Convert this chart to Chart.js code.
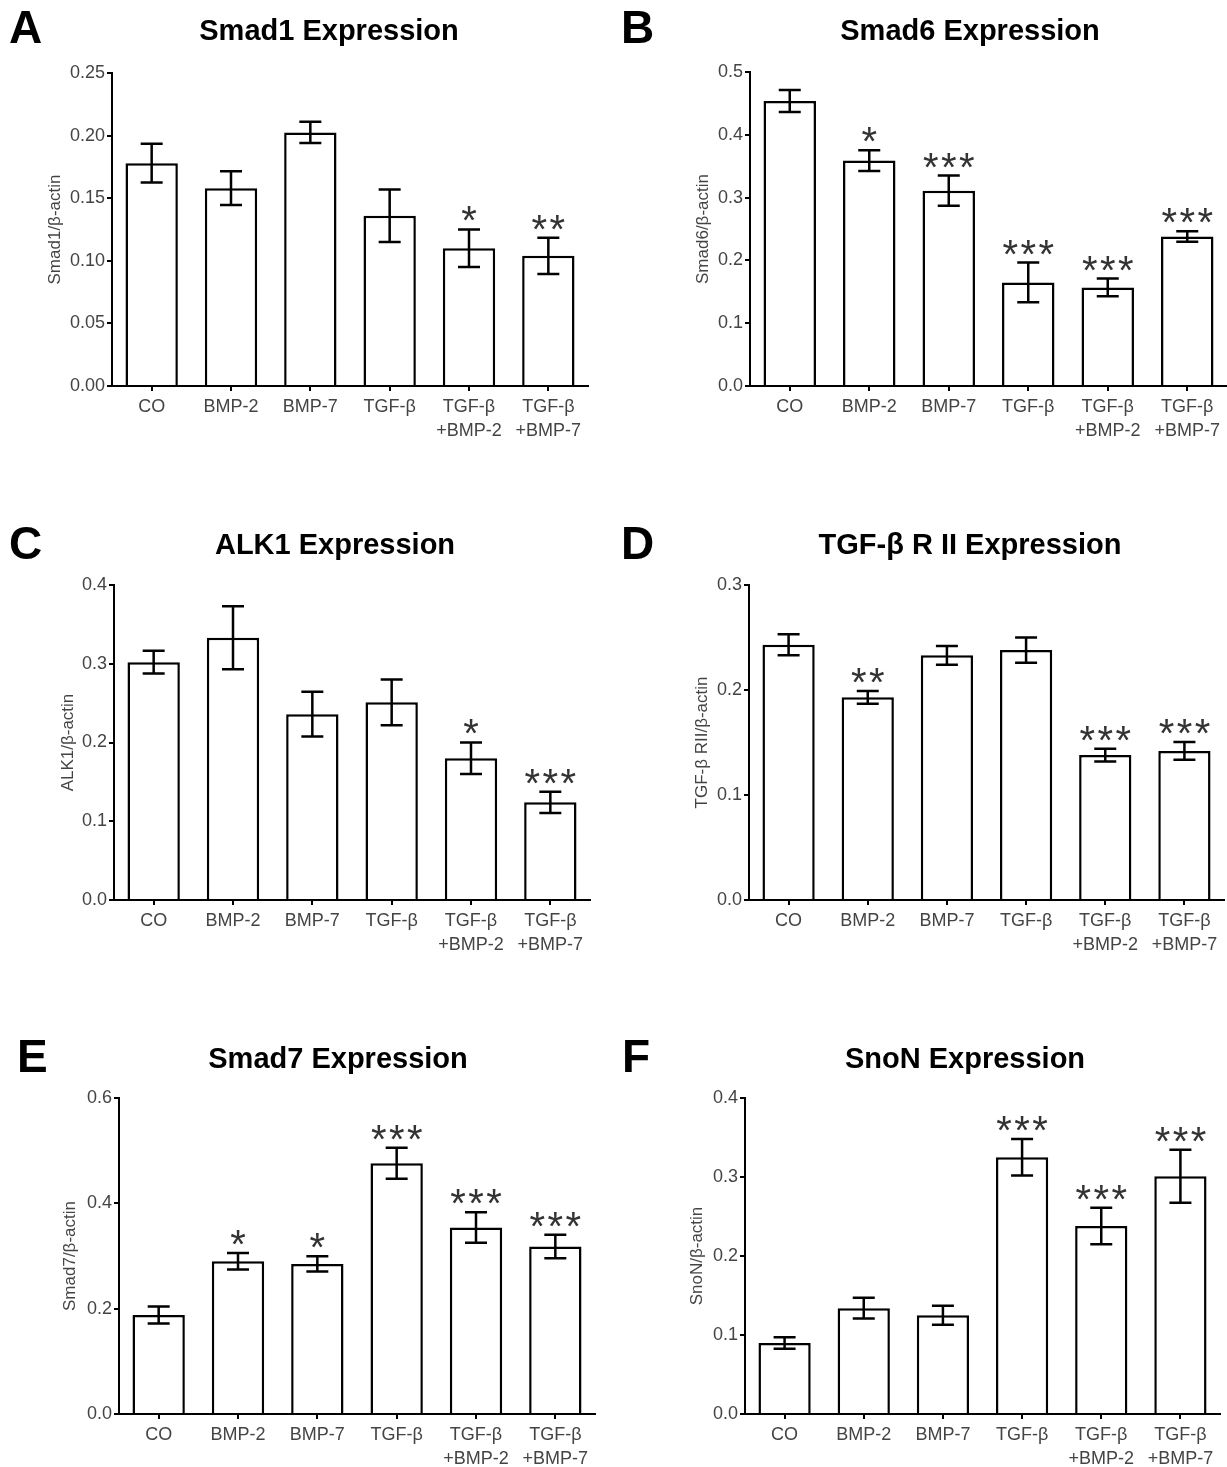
<!DOCTYPE html>
<html>
<head>
<meta charset="utf-8">
<script src="https://cdn.jsdelivr.net/npm/chart.js@4.4.1/dist/chart.umd.min.js"></script>
<style>
  body { margin: 0; background: #fff; }
  #wrap { position: relative; width: 1227px; height: 1467px; }
  canvas { position: absolute; }
</style>
</head>
<body>
<div id="wrap">
  <canvas id="chartA" width="613" height="490" style="left:0;top:0"></canvas>
  <canvas id="chartB" width="614" height="490" style="left:613px;top:0"></canvas>
  <canvas id="chartC" width="613" height="490" style="left:0;top:490px"></canvas>
  <canvas id="chartD" width="614" height="490" style="left:613px;top:490px"></canvas>
  <canvas id="chartE" width="613" height="487" style="left:0;top:980px"></canvas>
  <canvas id="chartF" width="614" height="487" style="left:613px;top:980px"></canvas>
</div>
<script>
// treatment groups (x categories)
var groups = ['CO', 'BMP-2', 'BMP-7', 'TGF-β', ['TGF-β', '+BMP-2'], ['TGF-β', '+BMP-7']];

// A - Smad1
var smad1Mean = [0.178, 0.158, 0.2025, 0.136, 0.110, 0.104];
var smad1Sem  = [0.0155, 0.0135, 0.0085, 0.021, 0.015, 0.0145];
var smad1Sig  = ['', '', '', '', '*', '**'];

// B - Smad6
var smad6Mean = [0.454, 0.359, 0.311, 0.165, 0.157, 0.238];
var smad6Sem  = [0.0175, 0.0165, 0.024, 0.0315, 0.014, 0.0085];
var smad6Sig  = ['', '*', '***', '***', '***', '***'];

// C - ALK1
var alk1Mean = [0.302, 0.333, 0.236, 0.251, 0.180, 0.124];
var alk1Sem  = [0.0145, 0.040, 0.0285, 0.029, 0.020, 0.0135];
var alk1Sig  = ['', '', '', '', '*', '***'];

// D - TGF-beta RII
var tgfr2Mean = [0.243, 0.193, 0.233, 0.238, 0.138, 0.142];
var tgfr2Sem  = [0.010, 0.006, 0.009, 0.012, 0.006, 0.0085];
var tgfr2Sig  = ['', '**', '', '', '***', '***'];

// E - Smad7
var smad7Mean = [0.188, 0.290, 0.285, 0.476, 0.354, 0.318];
var smad7Sem  = [0.016, 0.0155, 0.0145, 0.0295, 0.029, 0.0225];
var smad7Sig  = ['', '*', '*', '***', '***', '***'];

// F - SnoN
var snonMean = [0.090, 0.134, 0.125, 0.325, 0.238, 0.301];
var snonSem  = [0.0073, 0.013, 0.012, 0.023, 0.023, 0.0335];
var snonSig  = ['', '', '', '***', '***', '***'];

// y axis ranges: [max, step, decimals]
var smad1Axis = [0.25, 0.05, 2];
var smad6Axis = [0.5, 0.1, 1];
var alk1Axis  = [0.4, 0.1, 1];
var tgfr2Axis = [0.3, 0.1, 1];
var smad7Axis = [0.6, 0.2, 1];
var snonAxis  = [0.4, 0.1, 1];

var FONT = 'Arial, "Liberation Sans", sans-serif';
var GREY = '#444';

function makePanel(id, mean, sem, sig, axis, txt, box) {
	var canvas = document.getElementById(id);
	var W = canvas.width, H = canvas.height;
	var XH = 60;

	var deco = {
		id: 'deco_' + id,
		afterDatasetsDraw: function(chart) {
			var ctx = chart.ctx;
			var ys = chart.scales.y;
			var bars = chart.getDatasetMeta(0).data;
			var fs = 40;
			ctx.save();
			ctx.strokeStyle = '#000';
			ctx.lineWidth = 2.5;
			for (var i = 0; i < bars.length; i++) {
				var x = bars[i].x;
				var top = ys.getPixelForValue(mean[i] + sem[i]);
				var bot = ys.getPixelForValue(mean[i] - sem[i]);
				ctx.beginPath();
				ctx.moveTo(x, top); ctx.lineTo(x, bot);
				ctx.moveTo(x - 11, top); ctx.lineTo(x + 11, top);
				ctx.moveTo(x - 11, bot); ctx.lineTo(x + 11, bot);
				ctx.stroke();
				if (sig[i]) {
					var n = sig[i].length, pitch = 18;
					ctx.fillStyle = '#333';
					ctx.font = fs + 'px ' + FONT;
					ctx.textAlign = 'center';
					ctx.textBaseline = 'alphabetic';
					for (var k = 0; k < n; k++) {
						var sx = x - (n - 1) * pitch / 2 + k * pitch;
						ctx.fillText('*', sx, top - 18 + 0.573 * fs);
					}
				}
			}
			ctx.restore();
		},
		afterDraw: function(chart) {
			var ctx = chart.ctx;
			var a = chart.chartArea;
			ctx.save();
			ctx.fillStyle = '#000';
			ctx.textBaseline = 'middle';
			ctx.textAlign = 'left';
			ctx.font = 'bold 46px ' + FONT;
			ctx.fillText(txt.letter, box.lx, box.ly);
			ctx.textAlign = 'center';
			ctx.font = 'bold 29px ' + FONT;
			ctx.fillText(txt.title, box.tx, box.ty);
			// y axis title
			ctx.translate(box.yx, (a.top + a.bottom) / 2);
			ctx.rotate(-Math.PI / 2);
			ctx.fillStyle = GREY;
			ctx.font = '17px ' + FONT;
			ctx.fillText(txt.ytitle, 0, 0);
			ctx.restore();
		}
	};

	return new Chart(canvas, {
		type: 'bar',
		data: {
			labels: groups,
			datasets: [{
				data: mean,
				backgroundColor: '#fff',
				borderColor: '#000',
				borderWidth: 2.5,
				barPercentage: 0.66,
				categoryPercentage: 1
			}]
		},
		options: {
			responsive: false,
			animation: false,
			layout: {
				padding: { left: 0, top: box.top, right: W - box.right, bottom: H - box.bottom - XH }
			},
			plugins: { legend: { display: false }, tooltip: { enabled: false }, title: { display: false } },
			scales: {
				x: {
					offset: true,
					grid: { display: true, drawOnChartArea: false, drawTicks: true, tickLength: 5, offset: false, color: '#000', lineWidth: 2 },
					border: { display: true, color: '#000', width: 2 },
					ticks: { color: GREY, font: { family: FONT, size: 18, lineHeight: 1.28 }, padding: 5, maxRotation: 0, autoSkip: false },
					afterFit: function(s) { s.height = XH; }
				},
				y: {
					min: 0,
					max: axis[0],
					grid: { display: true, drawOnChartArea: false, drawTicks: true, tickLength: 5, color: '#000', lineWidth: 2 },
					border: { display: true, color: '#000', width: 2 },
					ticks: {
						stepSize: axis[1],
						color: GREY,
						padding: 2,
						font: { family: FONT, size: 18 },
						callback: function(v) { return Number(v).toFixed(axis[2]); }
					},
					afterFit: function(s) { s.width = box.left; }
				}
			}
		},
		plugins: [deco]
	});
}

makePanel('chartA', smad1Mean, smad1Sem, smad1Sig, smad1Axis,
	{ letter: 'A', title: 'Smad1 Expression', ytitle: 'Smad1/β-actin' },
	{ left: 112, right: 588, top: 73, bottom: 386, lx: 9, ly: 30, tx: 329, ty: 32, yx: 55 });
makePanel('chartB', smad6Mean, smad6Sem, smad6Sig, smad6Axis,
	{ letter: 'B', title: 'Smad6 Expression', ytitle: 'Smad6/β-actin' },
	{ left: 137, right: 614, top: 72, bottom: 386, lx: 8, ly: 30, tx: 357, ty: 32, yx: 90 });
makePanel('chartC', alk1Mean, alk1Sem, alk1Sig, alk1Axis,
	{ letter: 'C', title: 'ALK1 Expression', ytitle: 'ALK1/β-actin' },
	{ left: 114, right: 590, top: 95, bottom: 410, lx: 9, ly: 56, tx: 335, ty: 56, yx: 68 });
makePanel('chartD', tgfr2Mean, tgfr2Sem, tgfr2Sig, tgfr2Axis,
	{ letter: 'D', title: 'TGF-β R II Expression', ytitle: 'TGF-β RII/β-actin' },
	{ left: 136, right: 611, top: 95, bottom: 410, lx: 8, ly: 56, tx: 357, ty: 56, yx: 89 });
makePanel('chartE', smad7Mean, smad7Sem, smad7Sig, smad7Axis,
	{ letter: 'E', title: 'Smad7 Expression', ytitle: 'Smad7/β-actin' },
	{ left: 119, right: 595, top: 118, bottom: 434, lx: 17, ly: 79, tx: 338, ty: 80, yx: 70 });
makePanel('chartF', snonMean, snonSem, snonSig, snonAxis,
	{ letter: 'F', title: 'SnoN Expression', ytitle: 'SnoN/β-actin' },
	{ left: 132, right: 607, top: 118, bottom: 434, lx: 9, ly: 79, tx: 352, ty: 80, yx: 84 });
</script>
</body>
</html>
